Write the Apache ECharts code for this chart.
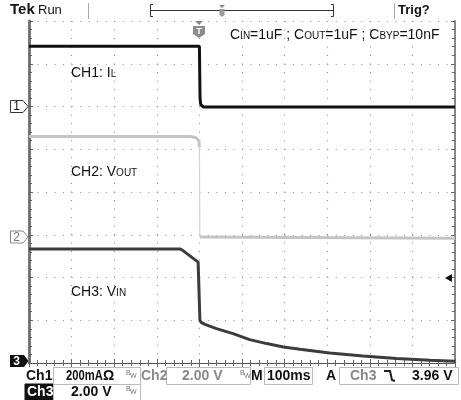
<!DOCTYPE html>
<html>
<head>
<meta charset="utf-8">
<script src="https://cdn.jsdelivr.net/npm/echarts@6/dist/echarts.min.js"></script>
<style>
html,body{margin:0;padding:0;background:#fff;}
#c{width:461px;height:400px;}
</style>
</head>
<body>
<div id="c"></div>
<script>
// Time axis in ms (trigger at 0), vertical in screen divisions (0 = bottom, 8 = top)
const xTicks = [-400, -300, -200, -100, 0, 100, 200, 300, 400, 500, 600];
const yTicks = [0, 1, 2, 3, 4, 5, 6, 7, 8];

// CH1: IL
const ch1Time = [-400, 0, 1.5, 3, 9, 600];
const ch1Div  = [7.41, 7.41, 6.2, 6.05, 5.99, 5.99];

// CH2: VOUT (falling edge between 0 ms and 1 ms is drawn faint)
const ch2Time = [-400, -20, -8, -1, 0, 1, 4, 600];
const ch2Div  = [5.30, 5.30, 5.27, 5.20, 5.05, 2.95, 2.92, 2.92];

// CH3: VIN
const ch3Time = [-400, -46, -40, -3, -0.5, 1.2, 4, 13, 40, 79, 118, 158, 197, 236, 306, 384, 463, 541, 600];
const ch3Div  = [2.667, 2.667, 2.64, 2.36, 2.33, 1.0, 0.95, 0.905, 0.805, 0.688, 0.547, 0.454, 0.374, 0.32, 0.234, 0.164, 0.103, 0.063, 0.04];

const pairs = (t, v) => t.map((x, i) => [x, v[i]]);
// CH2 thick trace with a gap at the fast edge
const ch2Thick = [];
ch2Time.forEach((t, i) => {
  if (i > 0 && ch2Time[i - 1] === 0) ch2Thick.push([null, null]);
  ch2Thick.push([t, ch2Div[i]]);
});

const FONT = 'Liberation Sans';
const chart = echarts.init(document.getElementById('c'), null, {renderer: 'canvas'});

const mctx = document.createElement('canvas').getContext('2d');
function measure(text, size, weight) {
  mctx.font = (weight || 'normal') + ' ' + size + 'px "' + FONT + '"';
  return mctx.measureText(text).width;
}

const dot = {type: [1, 7.52], color: '#8a8a8a', width: 1.2};
const xBase = {
  type: 'value', min: xTicks[0], max: xTicks[xTicks.length - 1], interval: 100,
  axisLabel: {show: false},
  axisTick: {show: true, inside: true, length: 4, lineStyle: {color: '#666'}},
  minorTick: {show: true, splitNumber: 5, length: 3, lineStyle: {color: '#666'}}
};
const yBase = {
  type: 'value', min: yTicks[0], max: yTicks[yTicks.length - 1], interval: 1,
  axisLabel: {show: false},
  axisTick: {show: true, inside: true, length: 4, lineStyle: {color: '#666'}},
  minorTick: {show: true, splitNumber: 5, length: 3, lineStyle: {color: '#666'}}
};

function txt(x, y, text, opt, extra) {
  return Object.assign({
    type: 'text', x: x, y: y, z: 100,
    style: Object.assign({text: text, fontFamily: FONT, fontSize: 13, fill: '#111', verticalAlign: 'middle', align: 'left'}, opt || {})
  }, extra || {});
}
function rect(x, y, w, h, stroke, fill) {
  return {type: 'rect', z: 90, shape: {x: x, y: y, width: w, height: h}, style: {stroke: stroke, fill: fill || 'none', lineWidth: 1}};
}
function line(x1, y1, x2, y2, stroke, w) {
  return {type: 'line', z: 90, shape: {x1: x1, y1: y1, x2: x2, y2: y2}, style: {stroke: stroke, lineWidth: w || 1}};
}
function poly(points, fill, stroke) {
  return {type: 'polygon', z: 95, shape: {points: points}, style: {fill: fill, stroke: stroke || 'none', lineWidth: 1}};
}
function bw(x, y) {
  return [txt(x, y, 'B', {fontSize: 7, fill: '#777'}), txt(x + 4, y + 3, 'W', {fontSize: 7, fill: '#777'})];
}
// text made of normal and small-caps parts sharing one baseline
function capsText(x, baseline, parts) {
  const out = [];
  let cx = x;
  parts.forEach(p => {
    const size = p[1];
    out.push(txt(cx, baseline - 0.3465 * size, p[0], {fontSize: size}));
    cx += measure(p[0], size);
  });
  return out;
}
const B = 14, S = 10;

const graphics = [
  // top bar
  txt(10, 10, 'Tek', {fontSize: 15, fontWeight: 'bold'}),
  txt(38, 10, 'Run', {fontSize: 13}),
  line(88.5, 3, 88.5, 19, '#aaa'),
  {type: 'polyline', z: 90, shape: {points: [[153, 4.5], [150.5, 4.5], [150.5, 16.5], [153, 16.5]]}, style: {stroke: '#333', fill: 'none'}},
  line(150.5, 10.5, 333.5, 10.5, '#333'),
  {type: 'polyline', z: 90, shape: {points: [[331, 4.5], [333.5, 4.5], [333.5, 16.5], [331, 16.5]]}, style: {stroke: '#333', fill: 'none'}},
  poly([[219, 5], [225, 5], [222, 8]], '#888'),
  poly([[219.5, 9], [224.5, 9], [224.5, 15], [222, 17], [219.5, 15]], '#999'),
  line(394.5, 3, 394.5, 19, '#aaa'),
  txt(398, 10, 'Trig?', {fontSize: 13, fontWeight: 'bold'}),

  // trigger position marker
  poly([[195, 21], [203, 21], [199, 25]], '#888'),
  poly([[193, 26], [205, 26], [205, 34], [199, 38], [193, 34]], '#8c8c8c'),
  txt(199, 31.5, 'T', {fontSize: 9, fontWeight: 'bold', fill: '#fff', align: 'center'}),

  // annotations
  ...capsText(230, 40, [['C', B], ['IN', S], ['=1uF ; C', B], ['OUT', S], ['=1uF ; C', B], ['BYP', S], ['=10nF', B]]),
  ...capsText(71, 78, [['CH1: I', B], ['L', S]]),
  ...capsText(71, 177, [['CH2: V', B], ['OUT', S]]),
  ...capsText(71, 297, [['CH3: V', B], ['IN', S]]),

  // channel ground markers
  poly([[10.5, 100.5], [23, 100.5], [28, 106.5], [23, 112.5], [10.5, 112.5]], '#fff', '#333'),
  txt(16.5, 107, '1', {fontSize: 12, align: 'center'}),
  poly([[10.5, 231], [23, 231], [28, 237], [23, 243], [10.5, 243]], '#fff', '#888'),
  txt(16.5, 237.5, '2', {fontSize: 12, align: 'center', fill: '#777'}),
  poly([[10, 355], [24, 355], [28.5, 361], [24, 367], [10, 367]], '#111'),
  txt(16.5, 361.5, '3', {fontSize: 12, align: 'center', fill: '#fff', fontWeight: 'bold'}),

  // trigger level arrow
  poly([[445, 278], [452, 274], [452, 282]], '#111'),

  // status row 1
  txt(26, 376, 'Ch1', {fontSize: 14, fontWeight: 'bold'}),
  rect(53.5, 367.5, 87, 17, '#bbb'),
  txt(66, 376, '200mA', {fontSize: 14, fontWeight: 'bold'}, {scaleX: 0.8, scaleY: 1}),
  txt(103, 376, 'Ω', {fontSize: 14, fontWeight: 'bold'}),
  ...bw(126, 373),
  txt(141, 376, 'Ch2', {fontSize: 14, fontWeight: 'bold', fill: '#888'}),
  rect(166.5, 367.5, 84, 17, '#bbb'),
  txt(182, 376, '2.00 V', {fontSize: 14, fontWeight: 'bold', fill: '#888'}),
  ...bw(240, 373),
  txt(251, 376, 'M', {fontSize: 14, fontWeight: 'bold'}),
  rect(264.5, 367.5, 48, 17, '#bbb'),
  txt(267, 376, '100ms', {fontSize: 14, fontWeight: 'bold'}),
  txt(326, 376, 'A', {fontSize: 14, fontWeight: 'bold'}),
  rect(339.5, 367.5, 119, 17, '#bbb'),
  txt(350, 376, 'Ch3', {fontSize: 14, fontWeight: 'bold', fill: '#888'}),
  {type: 'polyline', z: 95, shape: {points: [[384, 371], [390, 371], [392, 380], [395, 381]]}, style: {stroke: '#222', lineWidth: 2, fill: 'none'}},
  txt(412, 376, '3.96 V', {fontSize: 14, fontWeight: 'bold'}),

  // status row 2
  rect(25, 384, 28, 16, '#111', '#111'),
  txt(27, 392, 'Ch3', {fontSize: 14, fontWeight: 'bold', fill: '#fff'}),
  rect(53.5, 384.5, 87, 16, '#bbb'),
  txt(71, 392, '2.00 V', {fontSize: 14, fontWeight: 'bold'}),
  ...bw(126, 389)
];

chart.setOption({
  animation: false,
  backgroundColor: '#fff',
  grid: {left: 29, top: 21, width: 426, height: 342, containLabel: false},
  xAxis: [
    Object.assign({}, xBase, {position: 'bottom', axisLine: {show: true, lineStyle: {color: '#555', width: 1}}, splitLine: {show: true, lineStyle: dot}}),
    Object.assign({}, xBase, {position: 'top', axisLine: {show: true, lineStyle: {color: '#555', width: 1}}, splitLine: {show: false}})
  ],
  yAxis: [
    Object.assign({}, yBase, {position: 'left', axisLine: {show: true, onZero: false, lineStyle: {color: '#777', width: 3}}, splitLine: {show: true, lineStyle: dot}}),
    Object.assign({}, yBase, {position: 'right', axisLine: {show: true, onZero: false, lineStyle: {color: '#888', width: 2}}, splitLine: {show: false}})
  ],
  series: [
    {name: 'CH2 edge', type: 'line', data: pairs(ch2Time, ch2Div), showSymbol: false, lineStyle: {color: '#d4d4d4', width: 1.2}, z: 1},
    {name: 'CH3', type: 'line', data: pairs(ch3Time, ch3Div), showSymbol: false, lineStyle: {color: '#3c3c3c', width: 3}, z: 3},
    {name: 'CH2', type: 'line', data: ch2Thick, connectNulls: false, showSymbol: false, lineStyle: {color: '#c4c4c4', width: 3}, z: 2},
    {name: 'CH1', type: 'line', data: pairs(ch1Time, ch1Div), showSymbol: false, lineStyle: {color: '#111', width: 3}, z: 4}
  ],
  graphic: graphics
});
</script>
</body>
</html>
